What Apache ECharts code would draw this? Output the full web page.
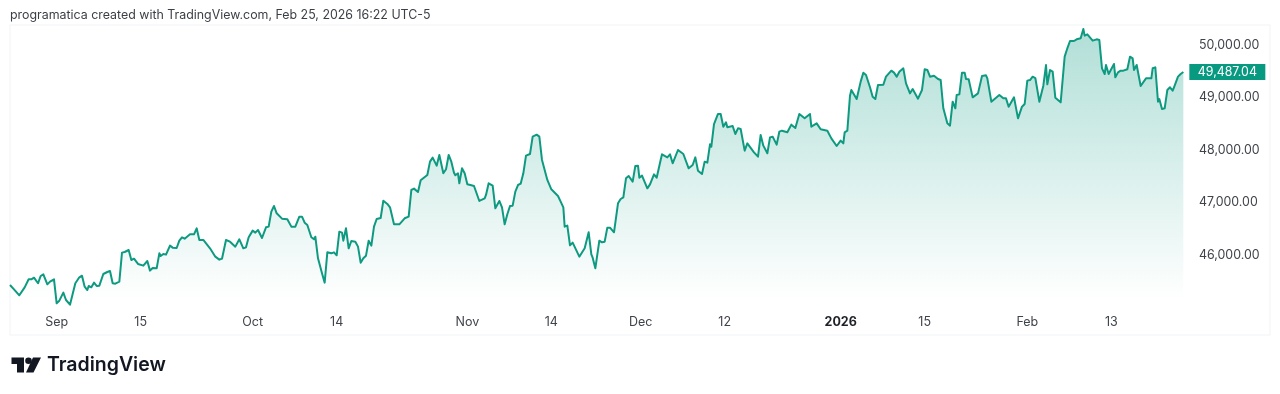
<!DOCTYPE html>
<html>
<head>
<meta charset="utf-8">
<style>
  html, body { margin: 0; padding: 0; background: #fff; }
  #chart { width: 1280px; height: 394px; }
</style>
<script src="https://cdn.jsdelivr.net/npm/echarts@6/dist/echarts.min.js"></script>
</head>
<body>
<div id="chart"></div>
<script>
// trading hours since the start of the window (7 bars a day)
const hours = [
  0,3,7,11,12,14,16,18,19,21,23,25,26,28,30,33,35,37,40,42,45,49,52,54,56,58,59,61,63,65,67,70,73,75,77,79,80,82,84,86,89,91,93,96,100,103,105,107,110,112,113,115,117,120,122,125,127,129,131,135,138,140,142,145,150,154,157,159,162,165,169,172,175,177,179,182,184,186,189,192,194,196,198,200,204,208,211,214,217,219,221,223,226,228,229,231,234,236,238,241,243,245,247,249,250,252,254,256,259,261,263,265,267,269,271,273,275,278,280,283,285,288,292,296,299,301,303,306,308,309,313,315,
  317,318,320,322,323,325,327,329,331,333,334,336,337,339,341,343,346,348,352,353,356,357,359,360,362,364,365,367,369,371,373,375,377,379,381,383,385,387,390,392,395,397,399,403,404,406,411,413,415,416,418,420,422,427,431,432,434,436,437,439,442,444,446,448,450,453,456,458,460,462,464,467,469,471,472,474,478,480,481,483,485,488,489,493,495,497,501,505,509,512,514,516,519,521,523,525,526,528,531,533,535,537,538,542,544,546,548,551,553,554,558,561,563,565,568,570,572,575,577,579,583,586,589,592,593,596,600,601,605,608,613,616,617,620,621,623,625,626,628,630,
  631,635,638,640,642,645,647,649,651,655,657,661,663,665,667,670,672,675,677,681,684,686,688,690,693,694,696,698,700,703,705,707,709,710,712,714,716,717,719,722,726,729,732,733,736,742,745,747,749,753,756,757,759,761,763,765,767,769,772,775,777,778,780,782,784,785,788,789,791,793,795,798,800,803,805,806,808,812,815,817,819,821,822,824,828,829,831,833,835,838,840,842,843,845,848,852,856,857,859,861,862,864,866,868,870,872,873,876,878,880
];
const values = [
  45429,45346,45232,45384,45410,45537,45537,45568,45549,45461,45600,45632,45626,45441,45492,45537,45080,45130,45283,45143,45054,45461,45575,45606,45397,45333,45410,45384,45473,45410,45416,45638,45676,45695,45461,45454,45416,45492,46045,46057,46095,45905,45930,45829,45797,45886,45702,45753,45746,46032,45981,46019,46007,46178,46140,46133,46273,46337,46311,46394,46394,46508,46286,46286,46127,45968,45911,45930,46286,46254,46159,46299,46127,46146,46337,46464,46426,46476,46324,46527,46540,46825,46933,46794,46692,46680,46540,46540,46730,46730,46616,46572,46337,46299,46349,45937,45651,45473,46051,46032,46051,45994,46445,46426,46273,46508,46127,46267,46254,46159,45854,45937,45987,46273,46178,46540,46686,46705,47035,46972,46908,46584,46584,46699,46730,47238,47264,47200,47422,47403,47524,47778,
  47854,47835,47702,47905,47873,47556,47632,47905,47778,47568,47518,47556,47365,47651,47556,47346,47327,47314,47029,47067,47079,47143,47365,47365,47321,46889,46883,47029,46908,46584,46775,46933,46940,47206,47333,47359,47556,47892,47924,48254,48292,48254,47810,47429,47429,47251,47124,47016,46908,46540,46559,46184,46235,45968,46127,46140,46432,46013,45949,45746,46273,46241,46254,46521,46521,46432,46984,47067,47099,47460,47505,47397,47695,47702,47473,47511,47270,47346,47346,47537,47473,47810,47918,47860,47918,47746,48000,47924,47651,47714,47860,47606,47543,47778,47759,48108,48064,48495,48686,48686,48444,48527,48432,48457,48305,48413,48400,47987,48127,48102,47956,47873,48286,48083,47937,48241,48254,48102,48349,48368,48337,48483,48419,48686,48705,48603,48686,48444,48508,48394,48368,48222,48222,48076,48064,48178,48127,48337,48368,49035,
  49143,48971,49302,49473,49429,49194,49016,48971,49238,49244,49397,49511,49473,49397,49492,49556,49270,49079,49162,48978,49143,49537,49524,49397,49416,49448,49352,49333,48794,48508,48464,48921,48794,49048,49060,49473,49473,49352,49346,49003,49079,49410,49422,49365,48921,49048,48984,48984,48825,49003,48603,48603,48825,48876,49321,49333,49397,49371,48921,49225,49619,49251,49524,49492,48997,48984,48908,48902,49778,49937,50076,50076,50108,50127,50305,50178,50203,50083,50108,50095,49556,49448,49619,49448,49638,49384,49479,49511,49511,49537,49778,49746,49524,49619,49219,49365,49365,49556,49575,48921,48971,48781,48794,49143,49194,49130,49194,49397,49448,49487.04
];
const tickHours = [35, 98, 182, 245, 343, 406, 473, 536, 623, 686, 763, 826];
const tickLabels = ["Sep", "15", "Oct", "14", "Nov", "14", "Dec", "12", "2026", "15", "Feb", "13"];
const priceTicks = [46000, 47000, 48000, 49000, 50000];
const lastPrice = 49487.04;

const axisFont = "Inter, 'Noto Sans', sans-serif";
const lineColor = "#0e9a80";
const logoColor = "#131722";

const chart = echarts.init(document.getElementById("chart"), null, { renderer: "canvas" });

chart.setOption({
  animation: false,
  backgroundColor: "#ffffff",
  title: {
    text: "programatica created with TradingView.com, Feb 25, 2026 16:22 UTC-5",
    left: 5,
    top: 4,
    textStyle: { color: "#3b3f46", fontSize: 12.4, fontWeight: 400, fontFamily: axisFont }
  },
  grid: {
    left: 10, right: 10, top: 25, bottom: 59,
    show: true,
    borderColor: "#f1f3f6",
    borderWidth: 1,
    backgroundColor: "transparent"
  },
  xAxis: {
    type: "value",
    min: 0,
    max: 945,
    splitLine: { show: false },
    axisLine: { show: false },
    axisTick: { show: false },
    axisLabel: {
      inside: true,
      margin: 6,
      customValues: tickHours,
      color: "#3f434a",
      fontSize: 12.5,
      fontFamily: axisFont,
      formatter: function (val) {
        const label = tickLabels[tickHours.indexOf(val)];
        return label === "2026" ? "{b|" + label + "}" : label;
      },
      rich: {
        b: { fontWeight: 700, fontSize: 12.5, color: "#1f2329", fontFamily: axisFont }
      }
    }
  },
  yAxis: {
    type: "value",
    position: "right",
    min: 44476,
    max: 50381,
    splitLine: { show: false },
    axisLine: { show: false },
    axisTick: { show: false },
    axisLabel: {
      inside: true,
      margin: 71,
      align: "left",
      padding: [4, 0, 0, 0],
      customValues: priceTicks,
      color: "#3f434a",
      fontSize: 12.4,
      fontFamily: axisFont,
      formatter: function (val) {
        return val.toLocaleString("en-US", { minimumFractionDigits: 2, maximumFractionDigits: 2 });
      }
    }
  },
  series: [
    {
      type: "line",
      data: hours.map((h, i) => [h, values[i]]),
      showSymbol: false,
      smooth: false,
      lineStyle: { color: lineColor, width: 2, join: "round" },
      itemStyle: { color: lineColor },
      areaStyle: {
        origin: 45143,
        opacity: 1,
        color: new echarts.graphic.LinearGradient(0, 25, 0, 300, [
          { offset: 0, color: "rgba(8,153,129,0.32)" },
          { offset: 1, color: "rgba(8,153,129,0)" }
        ], true)
      },
      markPoint: {
        silent: true,
        symbol: "rect",
        symbolSize: [76, 16],
        itemStyle: { color: "#089981" },
        label: {
          color: "#ffffff",
          fontSize: 12.4,
          fontFamily: axisFont,
          formatter: function () {
            return lastPrice.toLocaleString("en-US", { minimumFractionDigits: 2 });
          }
        },
        data: [{ coord: [913, lastPrice] }]
      }
    }
  ],
  graphic: [
    // logo mark
    { type: "polygon", shape: { points: [[11.5, 357.5], [24, 357.5], [24, 372.5], [17, 372.5], [17, 364], [11.5, 364]] }, style: { fill: logoColor } },
    { type: "circle", shape: { cx: 28.5, cy: 360.8, r: 3.3 }, style: { fill: logoColor } },
    { type: "polygon", shape: { points: [[33, 357.5], [41, 357.5], [33.5, 372.5], [26, 372.5]] }, style: { fill: logoColor } },
    {
      type: "text",
      left: 47,
      top: 355,
      style: { text: "TradingView", fill: logoColor, font: "600 19.5px Inter, 'Noto Sans', sans-serif" }
    }
  ]
});
</script>
</body>
</html>
